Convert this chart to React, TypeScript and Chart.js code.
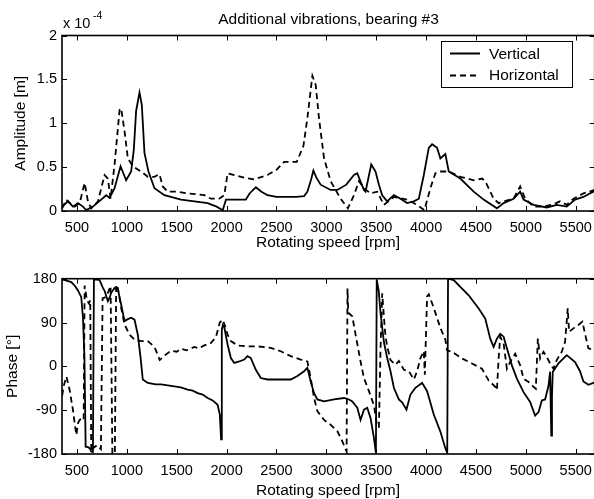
import React, { useEffect, useRef } from "react";
import { Chart, registerables } from "chart.js";

Chart.register(...registerables);

const FONT = "'Liberation Sans', Arial, Helvetica, sans-serif";

const TITLE = "Additional vibrations, bearing #3";
const X_LABEL = "Rotating speed [rpm]";
const AMP_LABEL = "Amplitude [m]";
const PHASE_LABEL = "Phase [°]";
const SERIES_NAMES = ["Vertical", "Horizontal"];

const RPM_MIN = 350;
const RPM_MAX = 5690;
const X_TICKS = [500, 1000, 1500, 2000, 2500, 3000, 3500, 4000, 4500, 5000, 5500];
const AMP_TICKS = [0, 0.5, 1, 1.5, 2];
const AMP_TICK_LABELS = ["0", "0.5", "1", "1.5", "2"];
const PHASE_TICKS = [-180, -90, 0, 90, 180];
const PHASE_TICK_LABELS = ["-180", "-90", "0", "90", "180"];

// Amplitude, units of 1e-4 m
const ampVertRpm = [352, 360, 410, 460, 510, 560, 593, 660, 743, 793, 827, 877, 937, 993, 1043, 1070, 1093, 1127, 1150, 1177, 1217, 1277, 1377, 1543, 1677, 1810, 1900, 1945, 1962, 1994, 2077, 2193, 2230, 2293, 2350, 2410, 2500, 2600, 2700, 2777, 2810, 2845, 2870, 2900, 2943, 3043, 3110, 3200, 3277, 3310, 3345, 3377, 3393, 3450, 3493, 3527, 3560, 3610, 3677, 3743, 3810, 3877, 3927, 3977, 4027, 4060, 4110, 4143, 4193, 4227, 4343, 4477, 4577, 4710, 4777, 4877, 4943, 4977, 5077, 5210, 5310, 5410, 5493, 5577, 5690];
const ampVert = [0.05, 0.05, 0.11, 0.05, 0.09, 0.05, 0.01, 0.05, 0.13, 0.18, 0.15, 0.26, 0.51, 0.35, 0.45, 0.7, 1.14, 1.35, 1.21, 0.66, 0.45, 0.26, 0.18, 0.13, 0.11, 0.09, 0.05, 0.02, 0.01, 0.13, 0.13, 0.13, 0.2, 0.27, 0.22, 0.18, 0.16, 0.16, 0.16, 0.17, 0.22, 0.35, 0.46, 0.38, 0.3, 0.24, 0.24, 0.3, 0.41, 0.43, 0.33, 0.24, 0.22, 0.53, 0.45, 0.3, 0.18, 0.11, 0.18, 0.14, 0.09, 0.11, 0.14, 0.41, 0.72, 0.76, 0.72, 0.6, 0.65, 0.45, 0.37, 0.22, 0.13, 0.03, 0.09, 0.14, 0.22, 0.13, 0.07, 0.04, 0.07, 0.05, 0.13, 0.16, 0.23];

const ampHorRpm = [352, 393, 440, 477, 527, 577, 610, 643, 710, 777, 810, 837, 877, 927, 943, 977, 1010, 1060, 1143, 1210, 1277, 1327, 1360, 1410, 1510, 1610, 1700, 1777, 1843, 1927, 1977, 2010, 2077, 2177, 2277, 2410, 2500, 2577, 2643, 2703, 2770, 2810, 2860, 2893, 2926, 2977, 3043, 3143, 3216, 3277, 3327, 3377, 3443, 3510, 3577, 3677, 3810, 3910, 3983, 4043, 4093, 4127, 4227, 4343, 4410, 4477, 4560, 4593, 4677, 4727, 4777, 4877, 4943, 4993, 5077, 5177, 5260, 5343, 5410, 5477, 5577, 5690];
const ampHor = [0.03, 0.13, 0.08, 0.05, 0.09, 0.32, 0.11, 0.03, 0.11, 0.41, 0.37, 0.14, 0.53, 1.15, 1.17, 0.91, 0.6, 0.51, 0.45, 0.39, 0.39, 0.42, 0.28, 0.22, 0.22, 0.2, 0.19, 0.18, 0.14, 0.14, 0.18, 0.43, 0.41, 0.38, 0.36, 0.41, 0.47, 0.56, 0.56, 0.56, 0.74, 1.06, 1.54, 1.44, 1.06, 0.6, 0.34, 0.14, 0.03, 0.18, 0.34, 0.26, 0.2, 0.22, 0.07, 0.16, 0.13, 0.07, 0.01, 0.26, 0.43, 0.45, 0.45, 0.39, 0.37, 0.35, 0.37, 0.34, 0.14, 0.09, 0.11, 0.14, 0.28, 0.14, 0.05, 0.05, 0.07, 0.11, 0.07, 0.14, 0.2, 0.24];

// Phase, degrees
const phVertRpm = [352, 380, 443, 480, 510, 543, 560, 575, 587, 610, 627, 643, 660, 670, 700, 727, 760, 777, 810, 827, 843, 877, 910, 943, 977, 1010, 1043, 1077, 1110, 1136, 1160, 1210, 1290, 1343, 1410, 1476, 1540, 1610, 1660, 1710, 1760, 1810, 1860, 1910, 1932, 1945, 1952, 1962, 1977, 2010, 2043, 2077, 2127, 2177, 2210, 2243, 2293, 2343, 2410, 2510, 2643, 2710, 2777, 2810, 2843, 2877, 2910, 2977, 3077, 3177, 3227, 3260, 3310, 3343, 3377, 3410, 3443, 3477, 3497, 3505, 3525, 3543, 3577, 3610, 3643, 3677, 3727, 3760, 3803, 3843, 3893, 3960, 4010, 4077, 4143, 4193, 4212, 4220, 4277, 4343, 4427, 4527, 4593, 4643, 4677, 4710, 4743, 4777, 4810, 4860, 4910, 4977, 5043, 5093, 5127, 5160, 5193, 5227, 5243, 5255, 5262, 5270, 5327, 5410, 5493, 5543, 5577, 5627, 5690];
const phVert = [178, 177, 173, 165, 156, 142, 101, 20, -165, -166, -168, -175, -176, 178, 178, 177, 161, 155, 134, 141, 151, 161, 158, 127, 93, 97, 100, 96, 65, 21, -27, -34, -37, -37, -39, -41, -43, -48, -50, -55, -58, -65, -70, -79, -99, -150, 75, 85, 80, 45, 17, 7, 10, 14, 21, 17, -7, -24, -27, -27, -27, -20, -10, -3, -31, -55, -68, -72, -68, -65, -68, -72, -85, -110, -89, -85, -106, -147, -178, 178, 155, 110, 50, 17, -10, -44, -68, -74, -89, -58, -44, -34, -51, -99, -134, -168, -178, 180, 177, 163, 146, 119, 98, 57, 40, 57, 67, 61, 37, 2, -25, -53, -73, -101, -94, -70, -68, -40, -11, -142, -60, -11, 6, 23, 9, -10, -31, -38, -33];

const phHorRpm = [352, 367, 394, 427, 460, 477, 494, 510, 527, 553, 567, 577, 600, 620, 633, 643, 660, 700, 740, 757, 777, 810, 837, 855, 880, 893, 910, 943, 977, 1027, 1077, 1143, 1210, 1277, 1330, 1377, 1443, 1500, 1543, 1600, 1677, 1720, 1777, 1843, 1893, 1932, 1960, 1990, 2010, 2043, 2110, 2210, 2310, 2443, 2543, 2643, 2743, 2810, 2843, 2877, 2910, 2977, 3043, 3110, 3160, 3203, 3212, 3220, 3260, 3293, 3343, 3377, 3427, 3477, 3510, 3527, 3543, 3560, 3577, 3593, 3610, 3643, 3693, 3727, 3777, 3827, 3877, 3910, 3943, 3977, 3987, 4010, 4027, 4077, 4143, 4193, 4210, 4260, 4360, 4460, 4560, 4627, 4693, 4710, 4727, 4743, 4777, 4810, 4843, 4893, 4943, 4977, 5027, 5077, 5100, 5120, 5143, 5177, 5210, 5243, 5277, 5310, 5360, 5393, 5420, 5433, 5477, 5527, 5567, 5593, 5627, 5690];
const phHor = [-60, -40, -21, -49, -90, -117, -141, -117, -110, -107, -110, 166, 136, 129, 136, -175, -168, -162, -170, 140, 141, 151, 165, -180, -178, 168, 161, 120, 86, 65, 55, 52, 52, 40, 13, 22, 32, 30, 36, 33, 40, 37, 43, 48, 60, 90, 96, 80, 65, 52, 43, 41, 41, 38, 31, 21, 14, 10, -24, -65, -92, -110, -120, -133, -154, -175, 160, 110, 103, 65, 10, -24, -51, -80, -124, -124, 34, 150, 102, 61, 41, 13, 3, 11, -7, -10, -27, -10, 17, 31, -17, 144, 148, 120, 79, 55, 33, 30, 16, 6, -5, -29, -42, -49, 16, 61, 47, -5, 9, 26, 2, -25, -32, -42, -46, 57, 16, 30, 19, 6, -5, 13, 30, 50, 119, 71, 78, 85, 92, 67, 37, 33];

const pts = (xs: number[], ys: number[]) => xs.map((x, i) => ({ x, y: ys[i] }));

const DASH = [6, 4];
const TEXT_SIZE = 15.5;
const TICK_SIZE = 14.5;

type Cfg = {
  canvasH: number;
  padTop: number;
  plotBottom: number;
  yMin: number;
  yMax: number;
  yTicks: number[];
  yTickLabels: string[];
  yLabel: string;
  yLabelX: number;
  xLabelBaseline: number;
  vert: { x: number; y: number }[];
  hor: { x: number; y: number }[];
  top: boolean;
};

function makeChart(canvas: HTMLCanvasElement, c: Cfg) {
  const overlay = {
    id: "overlay_" + (c.top ? "a" : "b"),
    afterDatasetsDraw(chart: any) {
      const { ctx, chartArea: a, scales } = chart;
      const xs = scales.x;
      const ys = scales.y;
      ctx.save();
      ctx.strokeStyle = "#000";
      ctx.lineWidth = 1;
      ctx.beginPath();
      for (const v of X_TICKS) {
        const px = Math.round(xs.getPixelForValue(v)) + 0.5;
        ctx.moveTo(px, a.bottom);
        ctx.lineTo(px, a.bottom - 5);
        ctx.moveTo(px, a.top);
        ctx.lineTo(px, a.top + 5);
      }
      for (const v of c.yTicks) {
        const py = Math.round(ys.getPixelForValue(v)) + 0.5;
        ctx.moveTo(a.left, py);
        ctx.lineTo(a.left + 5, py);
        ctx.moveTo(a.right, py);
        ctx.lineTo(a.right - 5, py);
      }
      ctx.stroke();
      ctx.lineWidth = 1.6;
      ctx.strokeRect(a.left, a.top, a.right - a.left, a.bottom - a.top);

      // axis titles
      ctx.fillStyle = "#000";
      ctx.font = `${TEXT_SIZE}px ${FONT}`;
      ctx.textAlign = "center";
      ctx.textBaseline = "alphabetic";
      ctx.fillText(X_LABEL, 328, c.xLabelBaseline);
      ctx.save();
      ctx.translate(c.yLabelX, (a.top + a.bottom) / 2);
      ctx.rotate(-Math.PI / 2);
      ctx.textBaseline = "middle";
      ctx.fillText(c.yLabel, 0, 0);
      ctx.restore();

      if (c.top) {
        ctx.textAlign = "center";
        ctx.fillText(TITLE, 328.5, 24);
        ctx.textAlign = "left";
        ctx.font = `${TICK_SIZE}px ${FONT}`;
        ctx.fillText("x 10", 63, 28);
        ctx.font = `10.5px ${FONT}`;
        ctx.fillText("-4", 93, 19);

        // legend
        const lx = 441.5, ly = 41.5, lw = 131, lh = 46;
        ctx.fillStyle = "#fff";
        ctx.fillRect(lx, ly, lw, lh);
        ctx.lineWidth = 1;
        ctx.strokeStyle = "#000";
        ctx.strokeRect(lx, ly, lw, lh);
        ctx.lineWidth = 2;
        ctx.beginPath();
        ctx.moveTo(450, 53.5);
        ctx.lineTo(480, 53.5);
        ctx.stroke();
        ctx.setLineDash(DASH);
        ctx.beginPath();
        ctx.moveTo(450, 75.5);
        ctx.lineTo(480, 75.5);
        ctx.stroke();
        ctx.setLineDash([]);
        ctx.fillStyle = "#000";
        ctx.font = `${TEXT_SIZE}px ${FONT}`;
        ctx.textAlign = "left";
        ctx.fillText(SERIES_NAMES[0], 489, 59);
        ctx.fillText(SERIES_NAMES[1], 489, 80);
      }
      ctx.restore();
    },
  };

  return new Chart(canvas, {
    type: "line",
    data: {
      datasets: [
        {
          label: SERIES_NAMES[0],
          data: c.vert,
          borderColor: "#000",
          borderWidth: 1.8,
          pointRadius: 0,
          tension: 0,
          fill: false,
        },
        {
          label: SERIES_NAMES[1],
          data: c.hor,
          borderColor: "#000",
          borderWidth: 1.8,
          borderDash: DASH,
          pointRadius: 0,
          tension: 0,
          fill: false,
        },
      ],
    },
    options: {
      responsive: false,
      animation: false,
      events: [],
      layout: { padding: { left: 0, right: 4, top: c.padTop, bottom: 0 } },
      plugins: { legend: { display: false }, tooltip: { enabled: false }, title: { display: false } },
      scales: {
        x: {
          type: "linear",
          min: RPM_MIN,
          max: RPM_MAX,
          grid: { display: false, drawTicks: false },
          border: { display: false },
          ticks: {
            color: "#000",
            font: { family: FONT, size: TICK_SIZE },
            padding: 8,
            maxRotation: 0,
            autoSkip: false,
            callback: (v: any) => String(v),
          },
          afterBuildTicks: (s: any) => {
            s.ticks = X_TICKS.map((v) => ({ value: v }));
          },
          afterFit: (s: any) => {
            s.height = c.canvasH - c.plotBottom;
          },
        },
        y: {
          type: "linear",
          min: c.yMin,
          max: c.yMax,
          grid: { display: false, drawTicks: false },
          border: { display: false },
          ticks: {
            color: "#000",
            font: { family: FONT, size: TICK_SIZE },
            padding: 5,
            autoSkip: false,
            callback: (v: any) => {
              const i = c.yTicks.indexOf(Number(v));
              return i >= 0 ? c.yTickLabels[i] : "";
            },
          },
          afterBuildTicks: (s: any) => {
            s.ticks = c.yTicks.map((v) => ({ value: v }));
          },
          afterFit: (s: any) => {
            s.width = 62;
          },
        },
      },
    },
    plugins: [overlay],
  } as any);
}

export default function App() {
  const topRef = useRef<HTMLCanvasElement>(null);
  const botRef = useRef<HTMLCanvasElement>(null);

  useEffect(() => {
    const c1 = makeChart(topRef.current!, {
      canvasH: 258,
      padTop: 35.5,
      plotBottom: 211,
      yMin: 0,
      yMax: 2,
      yTicks: AMP_TICKS,
      yTickLabels: AMP_TICK_LABELS,
      yLabel: AMP_LABEL,
      yLabelX: 21,
      xLabelBaseline: 247,
      vert: pts(ampVertRpm, ampVert),
      hor: pts(ampHorRpm, ampHor),
      top: true,
    });
    const c2 = makeChart(botRef.current!, {
      canvasH: 249,
      padTop: 28.7,
      plotBottom: 204,
      yMin: -180,
      yMax: 180,
      yTicks: PHASE_TICKS,
      yTickLabels: PHASE_TICK_LABELS,
      yLabel: PHASE_LABEL,
      yLabelX: 13,
      xLabelBaseline: 245,
      vert: pts(phVertRpm, phVert),
      hor: pts(phHorRpm, phHor),
      top: false,
    });
    return () => {
      c1.destroy();
      c2.destroy();
    };
  }, []);

  return (
    <div style={{ position: "absolute", left: 0, top: 0, width: 594, height: 499, overflow: "hidden", background: "#fff" }}>
      <canvas ref={topRef} width={600} height={258} style={{ position: "absolute", left: 0, top: 0 }} />
      <canvas ref={botRef} width={600} height={249} style={{ position: "absolute", left: 0, top: 250 }} />
    </div>
  );
}
